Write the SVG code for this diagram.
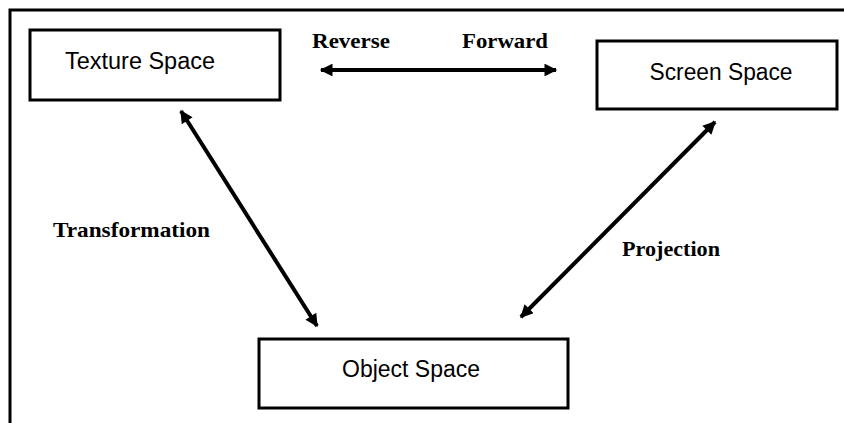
<svg xmlns="http://www.w3.org/2000/svg" width="844" height="423" viewBox="0 0 844 423">
  <style>
    .frame { fill: none; stroke: #000; stroke-width: 3; }
    .box { fill: #fff; stroke: #000; stroke-width: 3; }
    .node-label { font-family: "Liberation Sans", Arial, sans-serif; font-size: 23px; fill: #000; text-anchor: middle; }
    .edge-label { font-family: "Liberation Serif", "Times New Roman", serif; font-size: 22px; font-weight: bold; fill: #000; }
    .edge { fill: none; stroke: #000; stroke-width: 4; marker-start: url(#head); marker-end: url(#head); }
  </style>
  <defs>
    <marker id="head" viewBox="0 0 10 10" refX="9" refY="5" markerWidth="3.8" markerHeight="3.2" orient="auto-start-reverse" markerUnits="strokeWidth">
      <path d="M0,0 L10,5 L0,10 Z" fill="#000"/>
    </marker>
  </defs>

  <!-- page frame (open at right and bottom) -->
  <path class="frame" d="M10,423 V10 H846"/>

  <g id="texture-space">
    <rect class="box" x="30" y="30" width="250" height="70"/>
    <text class="node-label" x="140" y="69" textLength="150" lengthAdjust="spacingAndGlyphs">Texture Space</text>
  </g>

  <g id="screen-space">
    <rect class="box" x="597" y="41" width="240" height="68"/>
    <text class="node-label" x="721" y="80" textLength="143" lengthAdjust="spacingAndGlyphs">Screen Space</text>
  </g>

  <g id="object-space">
    <rect class="box" x="259" y="339" width="309" height="69"/>
    <text class="node-label" x="411" y="377" textLength="138" lengthAdjust="spacingAndGlyphs">Object Space</text>
  </g>

  <g id="connectors">
    <line class="edge" x1="321" y1="70" x2="556" y2="70"/>
    <line class="edge" x1="181" y1="111" x2="317" y2="326"/>
    <line class="edge" x1="715" y1="122" x2="521" y2="317"/>
  </g>

  <g id="labels">
    <text class="edge-label" x="312" y="48" textLength="78" lengthAdjust="spacingAndGlyphs">Reverse</text>
    <text class="edge-label" x="462" y="48" textLength="86" lengthAdjust="spacingAndGlyphs">Forward</text>
    <text class="edge-label" x="53" y="237" textLength="157" lengthAdjust="spacingAndGlyphs">Transformation</text>
    <text class="edge-label" x="622" y="256" textLength="98" lengthAdjust="spacingAndGlyphs">Projection</text>
  </g>
</svg>
